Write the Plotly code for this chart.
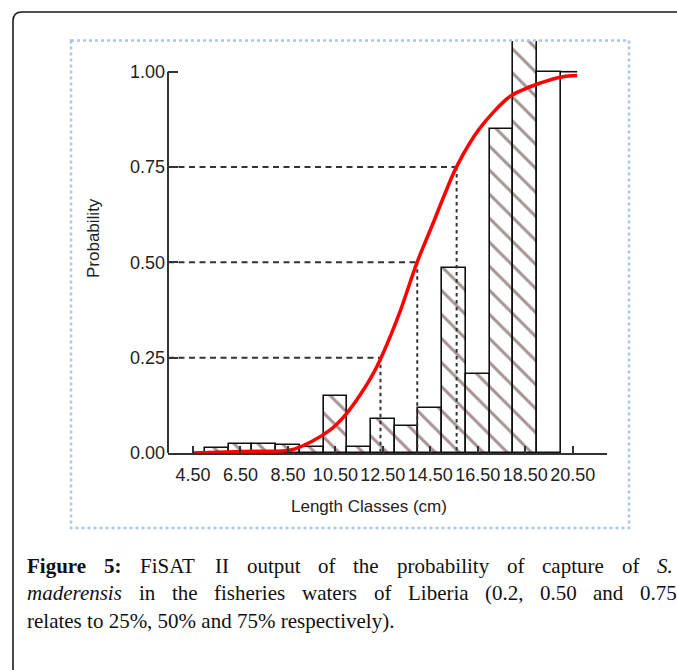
import plotly.graph_objects as go

# ---------------- data ----------------
length_classes = [5.5, 6.5, 7.5, 8.5, 9.5, 10.5, 11.5, 12.5, 13.5, 14.5, 15.5, 16.5, 17.5, 18.5, 19.5]
prob_observed = [0.012, 0.024, 0.024, 0.022, 0.016, 0.150, 0.017, 0.090, 0.071, 0.119, 0.484, 0.207, 0.850, 1.200, 1.000]
hatched = [True] * 14 + [False]

curve_x = [4.5, 6.6, 8.4, 8.8, 9.5, 10.27, 10.61, 10.98, 11.54, 12.1, 12.45, 13.22, 13.93, 14.6,
           15.61, 16.59, 17.86, 19.12, 20.1, 20.69]
curve_y = [0.0, 0.004, 0.006, 0.011, 0.030, 0.060, 0.079, 0.104, 0.152, 0.209, 0.253, 0.370, 0.498, 0.600,
           0.751, 0.852, 0.935, 0.970, 0.987, 0.990]

select_prob = [0.25, 0.50, 0.75]
select_len = [12.40, 13.95, 15.61]

xtick_vals = [4.5, 6.5, 8.5, 10.5, 12.5, 14.5, 16.5, 18.5, 20.5]
xtick_text = ["4.50", "6.50", "8.50", "10.50", "12.50", "14.50", "16.50", "18.50", "20.50"]
ytick_vals = [0.0, 0.25, 0.50, 0.75, 1.00]
ytick_text = ["0.00", "0.25", "0.50", "0.75", "1.00"]

# ---------------- layout geometry (pixels) ----------------
W, H = 677, 670
ML, MR, MT, MB = 168, 70, 41, 217
PW = W - ML - MR
PH = H - MT - MB
X_MIN = 3.4465
X_MAX = X_MIN + PW / 23.73
Y_MAX = PH / 381.3


def px(x):
    return (x - ML) / PW


def py(y):
    return (H - MB - y) / PH


TXT = "#222222"
SANS = "Liberation Sans, Arial, sans-serif"
SERIF = "Liberation Serif, Times New Roman, serif"

fig = go.Figure()

fig.add_trace(go.Bar(
    x=length_classes, y=prob_observed, width=1.0,
    marker=dict(
        color="white",
        line=dict(color="#111111", width=1.6),
        pattern=dict(shape=["\\" if h else "" for h in hatched],
                     fgcolor="#4a2a2a", bgcolor="white", size=17, solidity=0.18),
    ),
    hoverinfo="skip", showlegend=False,
))

# dashed selection lines
for p, L in zip(select_prob, select_len):
    fig.add_trace(go.Scatter(x=[X_MIN, L], y=[p, p], mode="lines",
                             line=dict(color="#333333", width=2, dash="6px,4.5px"),
                             hoverinfo="skip", showlegend=False))
    fig.add_trace(go.Scatter(x=[L, L], y=[p, 0], mode="lines",
                             line=dict(color="#333333", width=2, dash="3.5px,3.5px"),
                             hoverinfo="skip", showlegend=False))

# top line of last class extending to end of curve
fig.add_trace(go.Scatter(x=[length_classes[-1] + 0.5, curve_x[-1]],
                         y=[prob_observed[-1], prob_observed[-1]], mode="lines",
                         line=dict(color="#111111", width=1.6),
                         hoverinfo="skip", showlegend=False))

fig.add_trace(go.Scatter(x=curve_x, y=curve_y, mode="lines",
                         line=dict(color="#ff0000", width=3.5, shape="spline", smoothing=0.8),
                         hoverinfo="skip", showlegend=False))

shapes = [
    # y axis line 0..1
    dict(type="line", xref="paper", yref="y", x0=0, x1=0, y0=0, y1=1.0,
         line=dict(color="#333333", width=2)),
    # blue dotted frame
    dict(type="rect", xref="paper", yref="paper", x0=px(71), x1=px(629), y0=py(40.5), y1=py(528),
         line=dict(color="#a8c8ec", width=2.5, dash="dot")),
    # outer rounded frame
    dict(type="path", xref="paper", yref="paper",
         path=f"M {px(13)},{py(690)} L {px(13)},{py(21)} Q {px(13)},{py(12)} {px(22)},{py(12)} L {px(700)},{py(12)}",
         line=dict(color="#1a1a1a", width=1.6)),
]

annotations = [
    dict(text="Probability", xref="paper", yref="paper", x=px(93), y=py(238),
         textangle=-90, showarrow=False, font=dict(family=SANS, size=17, color=TXT),
         xanchor="center", yanchor="middle"),
    dict(text="Length Classes (cm)", xref="paper", yref="paper", x=px(369), y=py(506),
         showarrow=False, font=dict(family=SANS, size=17, color=TXT),
         xanchor="center", yanchor="middle"),
]

# ---------------- caption (justified lines) ----------------
REG = {' ': 250, 'a': 444, 'b': 500, 'c': 444, 'd': 500, 'e': 444, 'f': 333, 'g': 500, 'h': 500, 'i': 278,
       'j': 278, 'k': 500, 'l': 278, 'm': 778, 'n': 500, 'o': 500, 'p': 500, 'q': 500, 'r': 333, 's': 389,
       't': 278, 'u': 500, 'v': 500, 'w': 722, 'x': 500, 'y': 500, 'z': 444, 'A': 722, 'F': 556, 'I': 333,
       'L': 611, 'S': 556, 'T': 611, '.': 250, ',': 250, ':': 278, '(': 333, ')': 333, '%': 833}
BOLD = {'F': 611, 'i': 278, 'g': 500, 'u': 556, 'r': 444, 'e': 444, ':': 333}
ITAL = {'m': 722, 'a': 500, 'd': 500, 'e': 444, 'r': 389, 'n': 500, 's': 389, 'i': 278, 'S': 500, '.': 250}
FS = 21


def width(word, style):
    tab = {"r": REG, "b": BOLD, "i": ITAL}[style]
    tot = 0
    for ch in word:
        if ch.isdigit():
            tot += 500
        else:
            tot += tab.get(ch, REG.get(ch, 500))
    return tot / 1000 * FS


line1 = [("Figure", "b"), ("5:", "b"), ("FiSAT", "r"), ("II", "r"), ("output", "r"), ("of", "r"),
         ("the", "r"), ("probability", "r"), ("of", "r"), ("capture", "r"), ("of", "r"), ("S.", "i")]
line2 = [("maderensis", "i"), ("in", "r"), ("the", "r"), ("fisheries", "r"), ("waters", "r"), ("of", "r"),
         ("Liberia", "r"), ("(0.2,", "r"), ("0.50", "r"), ("and", "r"), ("0.75", "r")]


def justify(words, left, right, ycen):
    ws = [width(w, s) for w, s in words]
    gap = (right - left - sum(ws)) / (len(words) - 1)
    x = left
    for (w, s), wd in zip(words, ws):
        t = w
        if s == "b":
            t = f"<b>{w}</b>"
        elif s == "i":
            t = f"<i>{w}</i>"
        annotations.append(dict(text=t, xref="paper", yref="paper", x=px(x), y=py(ycen),
                                xanchor="left", yanchor="middle", showarrow=False, borderpad=0,
                                font=dict(family=SERIF, size=FS, color="#111111")))
        x += wd + gap


justify(line1, 26, 672, 565.5)
justify(line2, 26, 676, 593)
annotations.append(dict(text="relates to 25%, 50% and 75% respectively).", xref="paper", yref="paper",
                        x=px(26), y=py(620.5), xanchor="left", yanchor="middle", showarrow=False,
                        borderpad=0, font=dict(family=SERIF, size=FS, color="#111111")))

fig.update_layout(
    width=W, height=H,
    margin=dict(l=ML, r=MR, t=MT, b=MB),
    paper_bgcolor="white", plot_bgcolor="white",
    bargap=0, showlegend=False,
    xaxis=dict(range=[X_MIN, X_MAX], tickvals=xtick_vals, ticktext=xtick_text,
               ticks="inside", ticklen=7, tickwidth=1.5, tickcolor="#333333",
               showline=True, linecolor="#333333", linewidth=2,
               showgrid=False, zeroline=False, ticklabelstandoff=4,
               tickfont=dict(family=SANS, size=18, color=TXT)),
    yaxis=dict(range=[0, Y_MAX], tickvals=ytick_vals, ticktext=ytick_text,
               ticks="inside", ticklen=10, tickwidth=1.5, tickcolor="#333333",
               showline=False, showgrid=False, zeroline=False, ticklabelstandoff=2,
               tickfont=dict(family=SANS, size=18, color=TXT)),
    shapes=shapes,
    annotations=annotations,
)

fig.write_html("out.html")
